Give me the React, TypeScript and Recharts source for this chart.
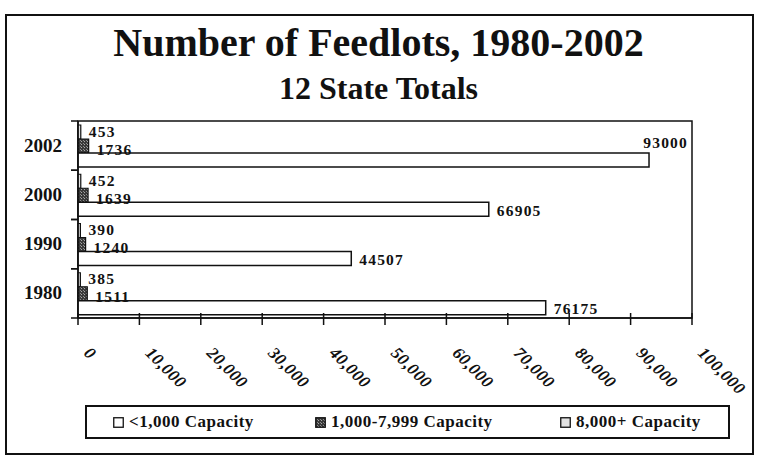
import React from "react";
import {
  BarChart,
  Bar,
  XAxis,
  YAxis,
  LabelList,
  ReferenceArea
} from "recharts";

const years = ["1980", "1990", "2000", "2002"];
const under1000 = [76175, 44507, 66905, 93000];
const mid1000to7999 = [1511, 1240, 1639, 1736];
const over8000 = [385, 390, 452, 453];
const xTicks = [0, 10000, 20000, 30000, 40000, 50000, 60000, 70000, 80000, 90000, 100000];
const seriesNames = ["<1,000 Capacity", "1,000-7,999 Capacity", "8,000+ Capacity"];

const W = 757;
const H = 464;
const MARGIN = { top: 121, right: 65, bottom: 106, left: 8 };
const PLOT_RIGHT = W - MARGIN.right;
const FONT = '"Liberation Serif", "Times New Roman", serif';

const data = years.map((year, i) => ({
  year,
  small: under1000[i],
  mid: mid1000to7999[i],
  large: over8000[i]
}));

function XTick(props: any) {
  const { x, y, payload } = props;
  const label = Number(payload.value).toLocaleString("en-US");
  const tx = x + 5;
  const ty = y + 36;
  return (
    <g>
      <line x1={x} x2={x} y1={y - 5} y2={y + 7} stroke="#111" strokeWidth={1.5} />
      <text
        x={tx}
        y={ty}
        transform={`rotate(45 ${tx} ${ty})`}
        fontFamily={FONT}
        fontStyle="italic"
        fontWeight="bold"
        fontSize={17}
        letterSpacing={0.5}
        fill="#111"
      >
        {label}
      </text>
    </g>
  );
}

function YTick(props: any) {
  const { x, y, payload } = props;
  const half = payload.offset || 24.6;
  return (
    <g>
      <line x1={x - 7} x2={x} y1={y - half} y2={y - half} stroke="#111" strokeWidth={1.5} />
      <line x1={x - 7} x2={x} y1={y + half} y2={y + half} stroke="#111" strokeWidth={1.5} />
      <text
        x={x - 16}
        y={y + 6}
        textAnchor="end"
        fontFamily={FONT}
        fontWeight="bold"
        fontSize={19}
        fill="#111"
      >
        {payload.value}
      </text>
    </g>
  );
}

function ValueLabel(props: any) {
  const { x, y, width, height, value, dy = 0 } = props;
  const text = String(value);
  const endX = x + width;
  const textW = text.length * 9.2;
  const common = {
    fontFamily: FONT,
    fontWeight: "bold" as const,
    fontSize: 15.5,
    letterSpacing: 1.2,
    fill: "#111"
  };
  if (endX + 8 + textW > PLOT_RIGHT) {
    return (
      <text x={PLOT_RIGHT - 4} y={y - 5} textAnchor="end" {...common}>
        {text}
      </text>
    );
  }
  return (
    <text x={endX + 8} y={y + height / 2 + 1 + dy} dominantBaseline="central" {...common}>
      {text}
    </text>
  );
}

function Swatch({ fill }: { fill: string }) {
  return (
    <svg width={11} height={11} style={{ marginRight: 5, verticalAlign: "-1px" }}>
      <rect x={0.75} y={0.75} width={9.5} height={9.5} fill={fill} stroke="#111" strokeWidth={1.3} />
    </svg>
  );
}

const legendFills = ["#ffffff", "url(#hatch)", "#e2e2e2"];

export default function App() {
  return (
    <div style={{ position: "absolute", left: 0, top: 0, width: W, height: H, background: "#fff", fontFamily: FONT }}>
      <svg width={0} height={0} style={{ position: "absolute" }}>
        <defs>
          <pattern id="hatch" width={3} height={3} patternUnits="userSpaceOnUse">
            <rect width={3} height={3} fill="#3a3a3a" />
            <rect width={1} height={1} fill="#a8a8a8" />
            <rect x={2} y={2} width={1} height={1} fill="#8a8a8a" />
          </pattern>
        </defs>
      </svg>
      <div
        style={{
          position: "absolute",
          left: 5,
          top: 14,
          width: 745,
          height: 437,
          border: "2px solid #111"
        }}
      />
      <div
        style={{
          position: "absolute",
          left: 0,
          width: W,
          top: 20,
          lineHeight: "46px",
          textAlign: "center",
          fontSize: 40,
          fontWeight: "bold",
          color: "#111"
        }}
      >
        Number of Feedlots, 1980-2002
      </div>
      <div
        style={{
          position: "absolute",
          left: 0,
          width: W,
          top: 70,
          lineHeight: "36px",
          textAlign: "center",
          fontSize: 32,
          fontWeight: "bold",
          color: "#111"
        }}
      >
        12 State Totals
      </div>
      <div style={{ position: "absolute", left: 0, top: 0 }}>
        <BarChart
          width={W}
          height={H}
          data={data}
          layout="vertical"
          margin={MARGIN}
          barGap={0}
          barSize={14}
        >
          <ReferenceArea x1={0} x2={100000} fill="none" stroke="#111" strokeWidth={1.5} ifOverflow="visible" />
          <XAxis
            type="number"
            domain={[0, 100000]}
            ticks={xTicks}
            height={40}
            tickSize={0}
            tickMargin={0}
            tickLine={false}
            axisLine={{ stroke: "#111", strokeWidth: 1.5 }}
            tick={<XTick />}
            interval={0}
          />
          <YAxis
            type="category"
            dataKey="year"
            reversed
            width={70}
            tickSize={0}
            tickMargin={0}
            tickLine={false}
            axisLine={{ stroke: "#111", strokeWidth: 1.5 }}
            tick={<YTick />}
            interval={0}
          />
          <Bar dataKey="large" name={seriesNames[2]} fill="#e2e2e2" stroke="#111" strokeWidth={1.2} isAnimationActive={false}>
            <LabelList dataKey="large" content={<ValueLabel dy={-2} />} />
          </Bar>
          <Bar dataKey="mid" name={seriesNames[1]} fill="url(#hatch)" stroke="#111" strokeWidth={1.2} isAnimationActive={false}>
            <LabelList dataKey="mid" content={<ValueLabel dy={2} />} />
          </Bar>
          <Bar dataKey="small" name={seriesNames[0]} fill="#ffffff" stroke="#111" strokeWidth={1.5} isAnimationActive={false}>
            <LabelList dataKey="small" content={<ValueLabel />} />
          </Bar>
        </BarChart>
      </div>
      <div
        style={{
          position: "absolute",
          left: 85,
          top: 405,
          width: 645,
          height: 34,
          border: "2px solid #111",
          boxSizing: "border-box"
        }}
      >
        {seriesNames.map((name, i) => (
          <div
            key={name}
            style={{
              position: "absolute",
              left: [26, 228, 473][i],
              top: 5,
              fontSize: 17,
              fontWeight: "bold",
              letterSpacing: 0.5,
              color: "#111",
              whiteSpace: "nowrap"
            }}
          >
            <Swatch fill={legendFills[i]} />
            {name}
          </div>
        ))}
      </div>
    </div>
  );
}
